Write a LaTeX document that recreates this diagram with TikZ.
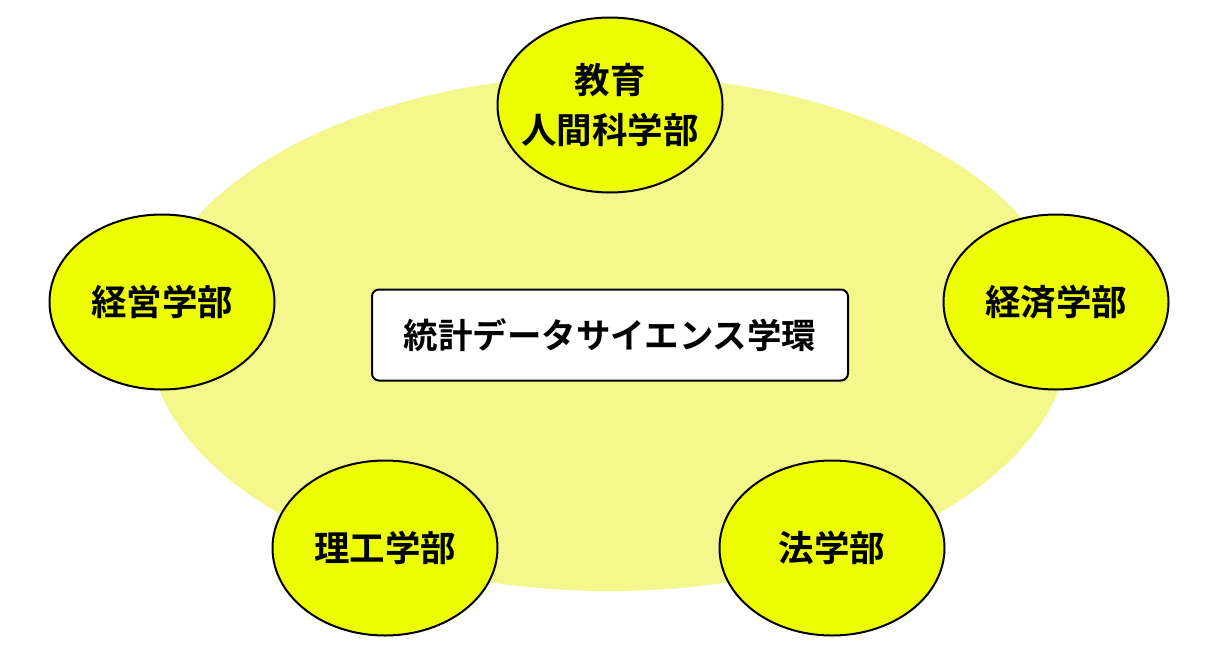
\documentclass[tikz,border=0pt]{standalone}
\usepackage{fontspec}
\newfontfamily\jp{Noto Sans CJK JP}[BoldFont={* Bold}]
\usetikzlibrary{shapes.geometric}
\definecolor{paleyellow}{RGB}{244,247,140}
\definecolor{brightyellow}{RGB}{237,254,0}
\tikzset{
  faculty/.style={ellipse, draw=black, line width=2pt, fill=brightyellow,
    minimum width=225pt, minimum height=175pt, inner sep=0pt,
    font=\jp\bfseries\fontsize{35.5}{50}\selectfont, align=center},
  center box/.style={draw=black, line width=2pt, fill=white, rounded corners=7pt,
    minimum width=476pt, minimum height=91pt, inner sep=0pt,
    font=\jp\bfseries\fontsize{34.5}{40}\selectfont}
}
\begin{document}
\begin{tikzpicture}[x=1pt,y=-1pt]
\useasboundingbox (0,0) rectangle (1220,664);
\fill[white] (0,0) rectangle (1220,664);
\node[ellipse, fill=paleyellow, minimum width=922pt, minimum height=516pt, inner sep=0pt] (ring) at (609,333) {};
\node[center box] (hub) at (610,335) {統計データサイエンス学環};
\node[faculty, inner xsep=-14pt] (edu) at (610,105) {教育\\人間科学部};
\node[faculty] (mgmt) at (162,302) {経営学部};
\node[faculty] (econ) at (1056,302) {経済学部};
\node[faculty] (sci) at (385,548) {理工学部};
\node[faculty] (law) at (832,548) {法学部};
\end{tikzpicture}
\end{document}
